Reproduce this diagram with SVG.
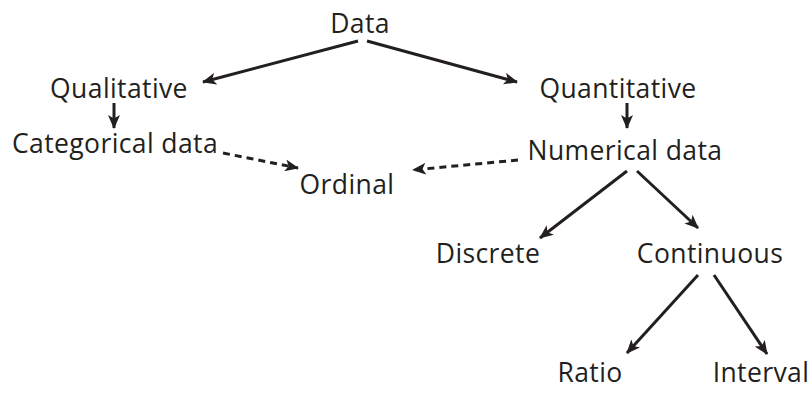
<svg xmlns="http://www.w3.org/2000/svg" width="811" height="394" viewBox="0 0 811 394">
<style>
text{font-family:"Open Sans","Noto Sans",sans-serif;font-size:26.5px;letter-spacing:0.4px;fill:#231f20;text-anchor:middle}
.c{stroke:#231f20;stroke-width:3;fill:none}
.d{stroke-dasharray:7 5}
</style>
<defs>
<marker id="ah" viewBox="0 0 14 12" refX="13" refY="6" markerWidth="14" markerHeight="12" markerUnits="userSpaceOnUse" orient="auto">
<path d="M0,0 L14,6 L0,12 L3.5,6 Z" fill="#231f20"/>
</marker>
</defs>
<rect width="811" height="394" fill="#fff"/>
<g id="connectors">
<line class="c" x1="358" y1="41" x2="203" y2="82" marker-end="url(#ah)"/>
<line class="c" x1="367" y1="41" x2="517" y2="82" marker-end="url(#ah)"/>
<line class="c" x1="114" y1="103" x2="114" y2="128" marker-end="url(#ah)"/>
<line class="c" x1="627" y1="103" x2="627" y2="128" marker-end="url(#ah)"/>
<line class="c d" x1="223" y1="153" x2="298" y2="168" marker-end="url(#ah)"/>
<line class="c d" x1="518" y1="160" x2="413" y2="170" marker-end="url(#ah)"/>
<line class="c" x1="627" y1="171" x2="540" y2="238" marker-end="url(#ah)"/>
<line class="c" x1="637" y1="171" x2="698" y2="228" marker-end="url(#ah)"/>
<line class="c" x1="698" y1="275" x2="627" y2="353" marker-end="url(#ah)"/>
<line class="c" x1="714" y1="275" x2="767" y2="354" marker-end="url(#ah)"/>
</g>
<g id="data"><text x="360" y="33">Data</text></g>
<g id="qualitative"><text x="119" y="98">Qualitative</text></g>
<g id="quantitative"><text x="618" y="98">Quantitative</text></g>
<g id="categorical"><text x="115" y="153">Categorical data</text></g>
<g id="numerical"><text x="625" y="160">Numerical data</text></g>
<g id="ordinal"><text x="347" y="194">Ordinal</text></g>
<g id="discrete"><text x="488" y="263">Discrete</text></g>
<g id="continuous"><text x="710" y="263">Continuous</text></g>
<g id="ratio"><text x="590" y="382">Ratio</text></g>
<g id="interval"><text x="761" y="382">Interval</text></g>
</svg>
